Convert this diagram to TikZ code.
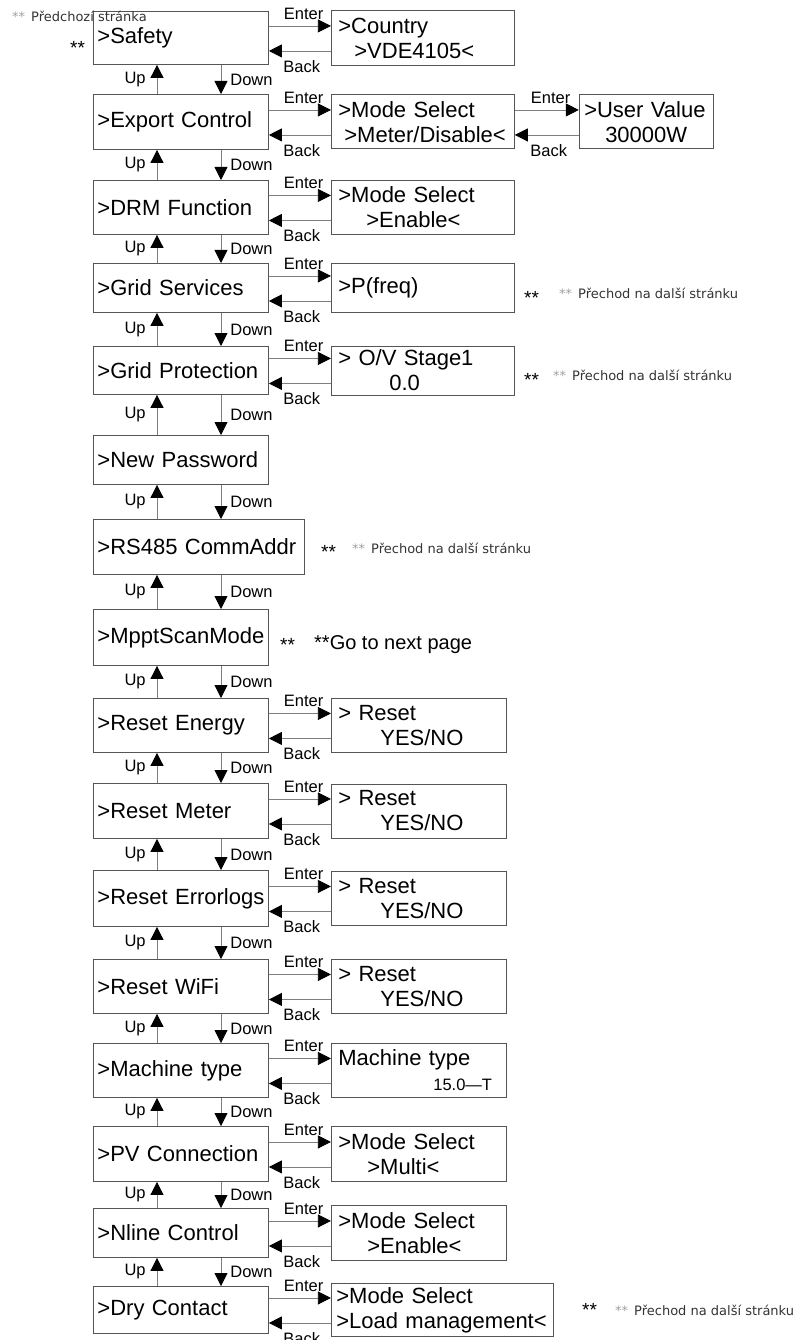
\documentclass[tikz,border=0pt]{standalone}
\usepackage{fontspec}
\setmainfont{Liberation Sans}
\newfontfamily\notefont{DejaVu Sans}
\definecolor{frame}{HTML}{555555}
\definecolor{wire}{HTML}{7F7F7F}
\definecolor{notegray}{HTML}{A0A0A0}
\usepackage{tikz}
\usetikzlibrary{positioning,arrows.meta}

\begin{document}
\begin{tikzpicture}[x=1pt, y=-1pt, font=\fontsize{22}{25}\selectfont]
    \tikzstyle{menu}=[draw=frame, line width=0.9pt, anchor=north west,
                      minimum height=54pt, inner xsep=4pt, text width=167pt, align=left]
    \tikzstyle{sub}=[draw=frame, line width=0.9pt, minimum height=54pt,
                     inner xsep=7pt, text width=169pt, align=left]
    \tikzstyle{arr}=[draw=wire, line width=0.8pt,
                     -{Triangle[length=13pt, width=13pt, color=black]}]
    \tikzstyle{lbl}=[font=\fontsize{16.5}{18}\selectfont, inner sep=1pt]
    \tikzstyle{stars}=[font=\fontsize{19}{20}\selectfont, anchor=base west, inner sep=0pt]
    \tikzstyle{note}=[font=\notefont\fontsize{13}{15}\selectfont, text=black!80,
                      anchor=base west, inner sep=0pt]

    \useasboundingbox (0,0) rectangle (803,1340);

    % main menu column
    \node[menu, minimum height=53pt] (safety)   at (93,11)   {>Safety};
    \node[menu, minimum height=55pt] (export)   at (93,94)   {>Export~Control};
    \node[menu]                      (drm)      at (93,180)  {>DRM~Function};
    \node[menu, minimum height=49pt] (gridsrv)  at (93,263)  {>Grid~Services};
    \node[menu, minimum height=48pt] (gridprot) at (93,346)  {>Grid~Protection};
    \node[menu, minimum height=49pt] (newpwd)   at (93,435)  {>New~Password};
    \node[menu, minimum height=55pt, text width=203pt] (rs485) at (93,519) {>RS485~CommAddr};
    \node[menu, minimum height=56pt] (mppt)     at (93,609)  {>MpptScanMode};
    \node[menu]                      (rstenergy) at (93,698) {>Reset~Energy};
    \node[menu, minimum height=55pt] (rstmeter) at (93,783)  {>Reset~Meter};
    \node[menu, minimum height=56pt] (rsterr)   at (93,870)  {>Reset~Errorlogs};
    \node[menu]                      (rstwifi)  at (93,959)  {>Reset~WiFi};
    \node[menu]                      (machine)  at (93,1043) {>Machine~type};
    \node[menu, minimum height=55pt] (pvconn)   at (93,1126) {>PV~Connection};
    \node[menu, minimum height=49pt] (nline)    at (93,1208) {>Nline~Control};
    \node[menu, minimum height=47pt] (drycont)  at (93,1286) {>Dry~Contact};

    % sub menus
    \node[sub, right=62pt of safety, minimum height=55pt] (country)
          {>Country\\\hspace*{16pt}>VDE4105<};
    \node[sub, right=62pt of export] (expmode)
          {>Mode~Select\\\hspace*{6pt}>Meter/Disable<};
    \node[sub, right=64pt of expmode, inner xsep=5pt, text width=124pt] (userval)
          {>User~Value\\\hspace*{21pt}30000W};
    \node[sub, right=62pt of drm] (drmmode)
          {>Mode~Select\\\hspace*{28pt}>Enable<};
    \node[sub, right=62pt of gridsrv, minimum height=49pt] (pfreq) {>P(freq)};
    \node[sub, right=62pt of gridprot, minimum height=49pt] (ovstage)
          {>~O/V~Stage1\\\hspace*{51pt}0.0};
    \node[sub, right=62pt of rstenergy, text width=161pt] (rsten)
          {>~Reset\\\hspace*{42pt}YES/NO};
    \node[sub, right=62pt of rstmeter, text width=161pt] (rstme)
          {>~Reset\\\hspace*{42pt}YES/NO};
    \node[sub, right=62pt of rsterr, text width=161pt] (rster)
          {>~Reset\\\hspace*{42pt}YES/NO};
    \node[sub, right=62pt of rstwifi, text width=161pt] (rstwi)
          {>~Reset\\\hspace*{42pt}YES/NO};
    \node[sub, right=62pt of machine, text width=161pt] (mtype)
          {Machine~type\\\hspace*{95pt}{\fontsize{16.5}{18}\selectfont 15.0—T}};
    \node[sub, right=62pt of pvconn, text width=161pt, minimum height=55pt] (pvmode)
          {>Mode~Select\\\hspace*{29pt}>Multi<};
    \node[sub, right=62pt of nline, text width=161pt, minimum height=55pt] (nlmode)
          {>Mode~Select\\\hspace*{29pt}>Enable<};
    \node[sub, right=62pt of drycont, inner xsep=5pt, text width=212pt, minimum height=53pt] (drymode)
          {>Mode~Select\\>Load~management<};

    % enter / back
    \foreach \a/\b in {safety/country, export/expmode, expmode/userval, drm/drmmode,
                       gridsrv/pfreq, gridprot/ovstage, rstenergy/rsten, rstmeter/rstme,
                       rsterr/rster, rstwifi/rstwi, machine/mtype, pvconn/pvmode,
                       nline/nlmode, drycont/drymode}{
        \draw[arr] ([yshift=12pt]\a.east) -- node[lbl, above=5pt, pos=0.56]{Enter} ([yshift=12pt]\b.west);
        \draw[arr] ([yshift=-13pt]\b.west) -- node[lbl, below=8pt, pos=0.47]{Back} ([yshift=-13pt]\a.east);
    }

    % up / down
    \foreach \a/\b in {safety/export, export/drm, drm/gridsrv, gridsrv/gridprot,
                       gridprot/newpwd, newpwd/rs485, rs485/mppt, mppt/rstenergy,
                       rstenergy/rstmeter, rstmeter/rsterr, rsterr/rstwifi,
                       rstwifi/machine, machine/pvconn, pvconn/nline, nline/drycont}{
        \draw[arr] ([xshift=64pt]\b.north west) -- node[lbl, left=10pt]{Up} ([xshift=64pt]\a.south west);
        \draw[arr] ([xshift=128pt]\a.south west) -- node[lbl, right=8pt]{Down} ([xshift=128pt]\b.north west);
    }

    % page notes
    \node[note] (prevpg) at (12,22) {\textcolor{notegray}{**}\hspace{6pt}Předchozí stránka};
    \node[stars] (st0) at (70,55) {**};
    \node[stars] (st1) at (524,304) {**};
    \node[note] (nx1) at (559,298) {\textcolor{notegray}{**}\hspace{6pt}Přechod na další stránku};
    \node[stars] (st2) at (524,386) {**};
    \node[note] (nx2) at (553,380) {\textcolor{notegray}{**}\hspace{6pt}Přechod na další stránku};
    \node[stars] (st3) at (321,558) {**};
    \node[note] (nx3) at (352,553) {\textcolor{notegray}{**}\hspace{6pt}Přechod na další stránku};
    \node[stars] (st4) at (280,651) {**};
    \node[anchor=base west, inner sep=0pt, font=\fontsize{20}{22}\selectfont] (nx4) at (314,649) {**Go to next page};
    \node[stars] (st5) at (582,1316) {**};
    \node[note] (nx5) at (615,1315) {\textcolor{notegray}{**}\hspace{6pt}Přechod na další stránku};
\end{tikzpicture}
\end{document}
